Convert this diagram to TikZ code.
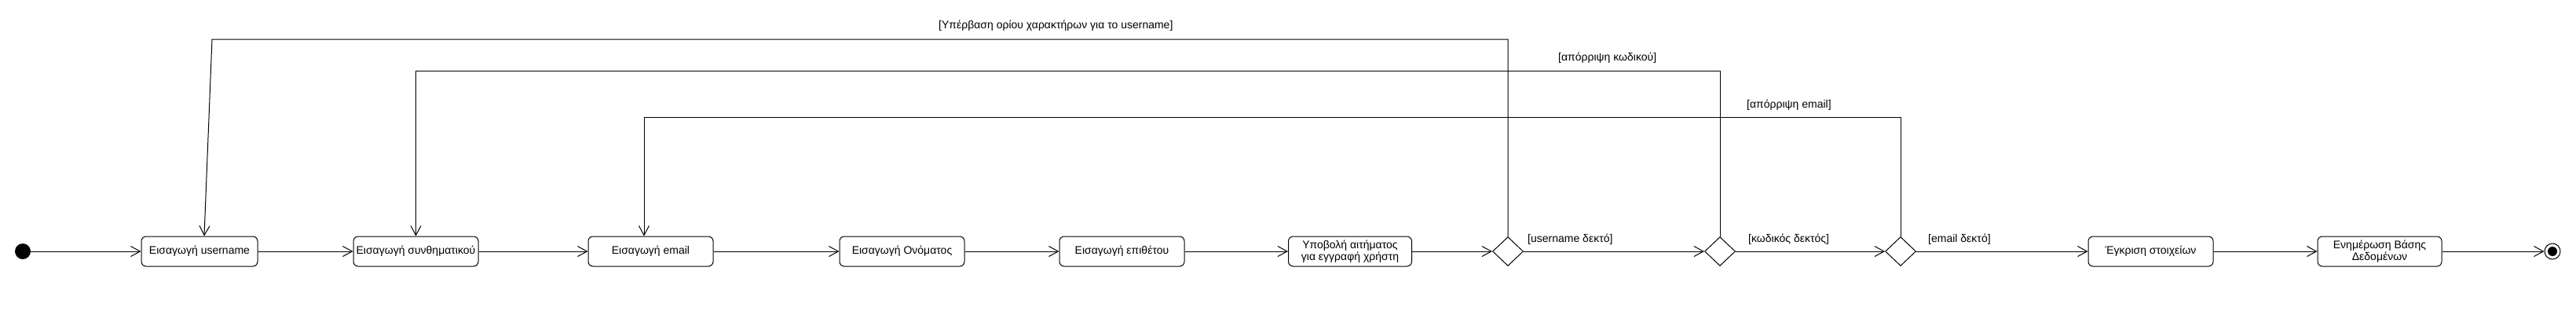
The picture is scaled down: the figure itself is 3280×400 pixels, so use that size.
\documentclass[tikz,border=0pt]{standalone}
\usepackage{fontspec}
\setmainfont{Liberation Sans}
\usetikzlibrary{arrows.meta,shapes.geometric}
\begin{document}
\begin{tikzpicture}[x=1pt,y=-1pt,
  every node/.style={font=\fontsize{14}{15}\selectfont},
  act/.style={draw, rounded corners=6pt, minimum height=38pt, minimum width=159pt, align=center, inner sep=2pt, line width=1pt},
  dec/.style={draw, diamond, minimum width=39pt, minimum height=37pt, inner sep=0pt, line width=1pt},
  flow/.style={line width=1pt, -{Straight Barb[length=12pt,width=13pt,line width=1pt]}},
  guard/.style={inner sep=0pt, anchor=west},
]
\useasboundingbox (0,0) rectangle (3280,400);
\node[circle, fill, inner sep=0pt, minimum size=20pt] (init) at (29,320) {};
\node[act, minimum width=148pt] (u) at (254,320) {Εισαγωγή username};
\node[act] (p) at (529.5,320) {Εισαγωγή συνθηματικού};
\node[act] (e) at (828.5,320) {Εισαγωγή email};
\node[act] (n) at (1148.5,320) {Εισαγωγή Ονόματος};
\node[act] (s) at (1428.5,320) {Εισαγωγή επιθέτου};
\node[act, minimum width=157pt] (r) at (1719,320) {Υποβολή αιτήματος\\για εγγραφή χρήστη};
\node[dec] (d1) at (1920,320) {};
\node[dec] (d2) at (2190,320) {};
\node[dec] (d3) at (2420,320) {};
\node[act] (a) at (2738.5,320) {Έγκριση στοιχείων};
\node[act, minimum width=158pt] (db) at (3030,320) {Ενημέρωση Βάσης\\Δεδομένων};
\node[circle, draw, line width=1pt, minimum size=20pt, inner sep=0pt] (fin) at (3250,320) {};
\node[circle, fill, minimum size=12pt, inner sep=0pt] (fin2) at (3250,320) {};

\draw[flow] (init) -- (u);
\draw[flow] (u) -- (p);
\draw[flow] (p) -- (e);
\draw[flow] (e) -- (n);
\draw[flow] (n) -- (s);
\draw[flow] (s) -- (r);
\draw[flow] (r) -- (d1.west);
\draw[flow] (d1.east) -- (d2.west);
\draw[flow] (d2.east) -- (d3.west);
\draw[flow] (d3.east) -- (a);
\draw[flow] (a) -- (db);
\draw[flow] (db) -- (fin);

\coordinate (c1a) at (1920,50);
\coordinate (c1b) at (270,50);
\coordinate (c2a) at (2190,90);
\coordinate (c2b) at (529.5,90);
\coordinate (c3a) at (2420,149);
\coordinate (c3b) at (820,149);
\draw[flow] (d1.north) -- (c1a) -- (c1b) -- ([xshift=6pt]u.north);
\draw[flow] (d2.north) -- (c2a) -- (c2b) -- (p.north);
\draw[flow] (d3.north) -- (c3a) -- (c3b) -- ([xshift=-8.5pt]e.north);

\node[guard] (g1) at (1945,305) {[username δεκτό]};
\node[guard] (g2) at (2226,305) {[κωδικός δεκτός]};
\node[guard] (g3) at (2455,305) {[email δεκτό]};
\node[guard] (g4) at (1195,33) {[Υπέρβαση ορίου χαρακτήρων για το username]};
\node[guard] (g5) at (1984,74) {[απόρριψη κωδικού]};
\node[guard] (g6) at (2224,134) {[απόρριψη email]};
\end{tikzpicture}
\end{document}
